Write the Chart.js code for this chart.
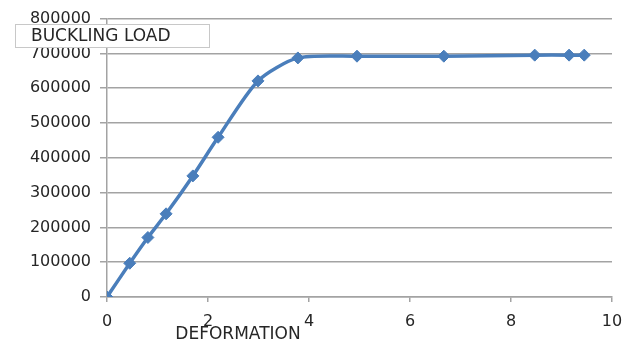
<!DOCTYPE html>
<html lang="en">
<head>
<meta charset="UTF-8">
<title>Buckling load</title>
<script src="https://cdn.jsdelivr.net/npm/chart.js"></script>
<style>
    body {
        margin: 0;
        padding: 0;
        background: #fff;
    }
    #chart {
        display: block;
    }
</style>
</head>
<body>
<canvas id="chart" width="640" height="342"></canvas>
<script>
// deformation vs. buckling load readings
const deformation = [0, 0.45, 0.81, 1.17, 1.70, 2.20, 2.99, 3.78, 4.95, 6.67, 8.47, 9.15, 9.45];
const load = [0, 97000, 171000, 239000, 348000, 459000, 621000, 687000, 692000, 692000, 695000, 695000, 695000];
const seriesName = 'BUCKLING LOAD';
const xTitle = 'DEFORMATION';

const points = deformation.map((d, i) => ({ x: d, y: load[i] }));

const textColor = '#262626';
const gridColor = '#a3a3a3';
const font = 'DejaVu Sans';

// boxed series label in the top left corner plus the x axis title
const labels = {
    id: 'labels',
    afterDraw(chart) {
        const c = chart.ctx;
        c.save();
        c.fillStyle = '#fff';
        c.fillRect(15.5, 24.5, 194, 23);
        c.strokeStyle = '#c8c8c8';
        c.lineWidth = 1;
        c.strokeRect(15.5, 24.5, 194, 23);
        c.fillStyle = textColor;
        c.font = '17px "' + font + '"';
        c.textBaseline = 'middle';
        c.textAlign = 'left';
        c.fillText(seriesName, 31, 37);
        c.textAlign = 'center';
        c.fillText(xTitle, 238, 335);
        c.restore();
    }
};

const ctx = document.getElementById('chart').getContext('2d');
new Chart(ctx, {
    type: 'scatter',
    data: {
        datasets: [{
            label: seriesName,
            data: points,
            showLine: true,
            borderColor: '#4a7ebb',
            backgroundColor: '#4a7ebb',
            borderWidth: 3.5,
            tension: 0.25,
            pointStyle: 'rectRot',
            pointRadius: 6,
            pointBorderWidth: 1
        }]
    },
    options: {
        responsive: false,
        animation: false,
        layout: { padding: { top: 16, right: 28, bottom: 0, left: 0 } },
        plugins: {
            legend: { display: false },
            tooltip: { enabled: false }
        },
        scales: {
            x: {
                min: 0,
                max: 10,
                afterFit(scale) { scale.height = 45; },
                ticks: {
                    stepSize: 2,
                    color: textColor,
                    padding: 10,
                    maxRotation: 0,
                    font: { family: font, size: 16 }
                },
                grid: {
                    drawOnChartArea: false,
                    color: gridColor,
                    lineWidth: 1.5,
                    tickLength: 5
                },
                border: { color: gridColor, width: 1.5 }
            },
            y: {
                min: 0,
                max: 800000,
                afterFit(scale) { scale.width = 107; },
                ticks: {
                    stepSize: 100000,
                    color: textColor,
                    padding: 9,
                    font: { family: font, size: 16 },
                    callback: (v) => String(v)
                },
                grid: {
                    color: gridColor,
                    lineWidth: 1.5,
                    tickLength: 7
                },
                border: { color: gridColor, width: 1.5 }
            }
        }
    },
    plugins: [labels]
});
</script>
</body>
</html>
